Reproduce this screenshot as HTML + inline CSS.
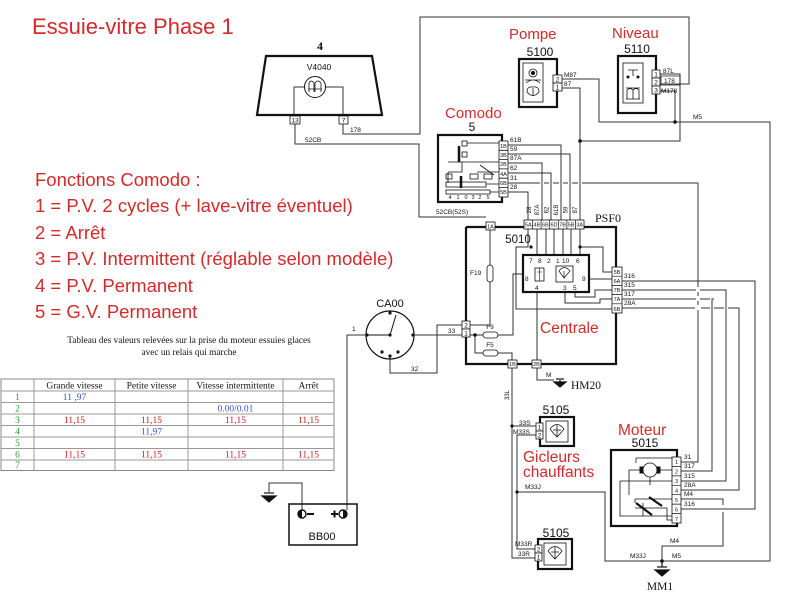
<!DOCTYPE html>
<html><head><meta charset="utf-8">
<style>
html,body{margin:0;padding:0;background:#fff;}
svg{display:block;}
.s{font-family:"Liberation Sans",sans-serif;}
.r{font-family:"Liberation Serif",serif;}
</style></head>
<body>
<svg width="800" height="600" viewBox="0 0 800 600" xmlns="http://www.w3.org/2000/svg">
<rect width="800" height="600" fill="#fff"/>

<!-- Title & red texts -->
<g class="s" fill="#d42a2a">
<text x="32" y="34" font-size="22">Essuie-vitre Phase 1</text>
<text x="35" y="186" font-size="18.5">Fonctions Comodo :</text>
<text x="35" y="212" font-size="18.5">1 = P.V. 2 cycles (+ lave-vitre éventuel)</text>
<text x="35" y="239" font-size="18.5">2 = Arrêt</text>
<text x="35" y="265" font-size="18.5">3 = P.V. Intermittent (réglable selon modèle)</text>
<text x="35" y="292" font-size="18.5">4 = P.V. Permanent</text>
<text x="35" y="318" font-size="18.5">5 = G.V. Permanent</text>
<text x="509" y="39" font-size="15">Pompe</text>
<text x="612" y="38" font-size="15">Niveau</text>
<text x="445" y="118" font-size="15">Comodo</text>
<text x="540" y="333" font-size="15.5">Centrale</text>
<text x="523" y="462" font-size="15.5">Gicleurs</text>
<text x="523" y="477" font-size="15.5">chauffants</text>
<text x="618" y="435" font-size="15.5">Moteur</text>
</g>

<!-- caption -->
<g class="r" font-size="9.3" fill="#111" text-anchor="middle">
<text x="189" y="343">Tableau des valeurs  relevées sur la prise du moteur essuies glaces</text>
<text x="189" y="355">avec un relais qui marche</text>
</g>

<!-- table -->
<g stroke="#999" stroke-width="1" fill="none">
<rect x="1" y="379" width="333" height="91.5" stroke="#888"/>
<line x1="1" y1="391" x2="334" y2="391"/>
<line x1="1" y1="402.5" x2="334" y2="402.5"/>
<line x1="1" y1="414" x2="334" y2="414"/>
<line x1="1" y1="425.5" x2="334" y2="425.5"/>
<line x1="1" y1="437" x2="334" y2="437"/>
<line x1="1" y1="448.5" x2="334" y2="448.5"/>
<line x1="1" y1="460" x2="334" y2="460"/>
<line x1="34" y1="379" x2="34" y2="470.5"/>
<line x1="115" y1="379" x2="115" y2="470.5"/>
<line x1="188" y1="379" x2="188" y2="470.5"/>
<line x1="283" y1="379" x2="283" y2="470.5"/>
</g>
<g class="r" font-size="9.5" text-anchor="middle">
<g fill="#111">
<text x="74.5" y="388.5">Grande vitesse</text>
<text x="151.5" y="388.5">Petite vitesse</text>
<text x="235.5" y="388.5">Vitesse intermittente</text>
<text x="308.5" y="388.5">Arrêt</text>
</g>
<g fill="#22aa22">
<text x="17.5" y="400">1</text><text x="17.5" y="411.5">2</text><text x="17.5" y="423">3</text>
<text x="17.5" y="434.5">4</text><text x="17.5" y="446">5</text><text x="17.5" y="457.5">6</text>
<text x="17.5" y="468">7</text>
</g>
<g fill="#3355cc">
<text x="74.5" y="400">11 ,97</text>
<text x="235.5" y="411.5">0.00/0.01</text>
<text x="151.5" y="434.5">11,97</text>
</g>
<g fill="#cc1a1a">
<text x="74.5" y="423">11,15</text><text x="151.5" y="423">11,15</text><text x="235.5" y="423">11,15</text><text x="308.5" y="423">11,15</text>
<text x="74.5" y="457.5">11,15</text><text x="151.5" y="457.5">11,15</text><text x="235.5" y="457.5">11,15</text><text x="308.5" y="457.5">11,15</text>
</g>
</g>

<!-- ============ WIRES ============ -->
<g stroke="#333" stroke-width="1" fill="none">
<!-- 178 -->
<path d="M343,124 V134 H420 V17 H689 V84 H660"/>
<!-- 52CB -->
<path d="M295,124 V144 H419 V217 H486"/>
<!-- Pompe -->
<path d="M562,79 H599 V122 H675"/>
<path d="M562,88 H580 V220"/>
<!-- Niveau -->
<path d="M660,74 H680 V141 H580"/>
<path d="M660,91 H675 V122"/>
<!-- M5 -->
<path d="M675,122 H770 V561 H662"/>
<!-- Comodo wires -->
<path d="M508,145 H561 V220"/>
<path d="M508,154 H570 V220"/>
<path d="M508,163 H542 V220"/>
<path d="M508,173 H551 V220"/>
<path d="M508,192 H528 V220"/>
<path d="M508,183 H540 M544,183 H549 M553,183 H559 M563,183 H568 M572,183 H578 M582,183 H698 V287 M698,292 V296 M698,301 V305 M698,310 V462 H681"/>
<!-- PSF0 right wires -->
<path d="M622,281 H755 V509 H681"/>
<path d="M622,290 H696 M700,290 H726 V481 H681"/>
<path d="M622,299 H696 M700,299 H710 M714,299 H712 V471 H681"/>
<path d="M622,308 H695 M701,308 H710 M714,308 H724 M728,308 H739 V490 H681"/>
<!-- M4 -->
<path d="M681,499 H723 V505 M723,512 V546 H662 V561"/>
<!-- M33J -->
<path d="M517,492 H605 V561 H662"/>
<!-- 33L / Gicleurs -->
<path d="M512,368 V558 H535"/>
<path d="M512,426 H537"/>
<path d="M537,435 H517 V549 H535"/>
<!-- CA00 wires -->
<path d="M366,335 H347 V510"/>
<path d="M414,335 H462"/>
<path d="M390,357 V373 H437 V325 H462"/>
<!-- battery ground -->
<path d="M302,510 V483 H269 V492"/>
<!-- PSF0 internals -->
<path d="M490,230 V265 M490,282 V325 H470"/>
<path d="M470,335 H483 M475,335 V353 H483"/>
<path d="M498,335 H513 V274 H523"/>
<path d="M498,353 H512 V360"/>
<path d="M528,229 V247 H516 V309 H612"/>
<path d="M537,229 V255 M546,229 V255 M554,229 V255 M563,229 V255 M571,229 V255 M580,229 V255"/>
<path d="M580,247 H603 V272 H612"/>
<path d="M589,279 H612"/>
<path d="M575,292 V297 H595 V290 H612"/>
<path d="M565,292 V303 H600 V299 H612"/>
<path d="M537,292 V360 M537,368 V380 H554"/>
<!-- V4040 internal -->
<path d="M304,87 H294 V116 M325,87 H343 V116"/>
</g>

<!-- dots -->
<g fill="#111">
<circle cx="580" cy="141" r="1.8"/><circle cx="675" cy="122" r="1.8"/>
<circle cx="475" cy="335" r="1.8"/><circle cx="580" cy="247" r="1.6"/><circle cx="531" cy="247" r="1.6"/>
<circle cx="512" cy="426" r="1.6"/><circle cx="517" cy="492" r="1.6"/><circle cx="662" cy="561" r="1.8"/>
</g>

<!-- ============ COMPONENTS ============ -->
<g stroke="#111" fill="none">
<!-- V4040 -->
<polygon points="266,56 372,56 382,115 257,115" stroke-width="2.2"/>
<circle cx="315" cy="87" r="10.5" stroke-width="1"/>
<path d="M309,92 V83 Q311,79 314,83 V92 M315,92 V83 Q318,79 321,83 V92 M308,89 H322" stroke-width="0.8"/>
<rect x="290" y="116" width="10" height="8" fill="#fff" stroke-width="0.8"/>
<rect x="339" y="116" width="9" height="8" fill="#fff" stroke-width="0.8"/>

<!-- Pompe -->
<rect x="519" y="59" width="38" height="48" stroke-width="2.2"/>
<rect x="523" y="63" width="20" height="39" stroke-width="0.8"/>
<circle cx="533" cy="73" r="4" stroke-width="0.8"/><circle cx="533" cy="73" r="1.6" fill="#111"/>
<path d="M525,80 H541 M526,83 Q533,77 540,83 M527,92 Q527,86 533,87 Q539,86 539,92 Q533,99 527,92 M533,88 V96" stroke-width="0.8"/>
<rect x="553" y="75" width="9" height="8" fill="#fff" stroke-width="0.8"/>
<rect x="553" y="83" width="9" height="8" fill="#fff" stroke-width="0.8"/>

<!-- Niveau -->
<rect x="618" y="56" width="38" height="57" stroke-width="2.2"/>
<rect x="623" y="63" width="20" height="40" stroke-width="0.8"/>
<path d="M628,70 H638 M633,70 V76 M626,88 H640 M627,99 V90 Q630,87 633,90 V99 M633,90 Q636,87 639,90 V99 M626,99 H640" stroke-width="0.8"/>
<circle cx="628" cy="77" r="1" fill="#111"/><circle cx="638" cy="77" r="1" fill="#111"/>
<rect x="652" y="70" width="8" height="8" fill="#fff" stroke-width="0.8"/>
<rect x="652" y="78" width="8" height="8" fill="#fff" stroke-width="0.8"/>
<rect x="652" y="86" width="8" height="8" fill="#fff" stroke-width="0.8"/>
<rect x="661" y="76" width="19" height="9" stroke-width="0.7"/>

<!-- Comodo -->
<rect x="438" y="135" width="64" height="67" stroke-width="2.2"/>
<g stroke-width="0.8">
<rect x="462" y="141" width="5" height="5"/><rect x="462" y="152" width="5" height="5"/>
<path d="M467,143 H499 M448,162 H499 M477,172 H499 M448,172 V183 M448,172 H462 V162"/>
<path d="M480,165 L494,175"/>
<rect x="446" y="174" width="6" height="5"/><rect x="470" y="174" width="8" height="5"/><rect x="484" y="174" width="8" height="5"/>
<rect x="446" y="182" width="40" height="5"/><rect x="446" y="190" width="44" height="4"/>
<path d="M490,192 H499 M486,184 H499"/>
</g>
<path d="M459,146 V162 M461,176 V188" stroke-width="2.5"/>
<rect x="499" y="141" width="9" height="56" fill="#fff" stroke-width="0.8"/>
<path d="M499,150.3 H508 M499,159.6 H508 M499,168.9 H508 M499,178.2 H508 M499,187.5 H508" stroke-width="0.8"/>

<!-- PSF0 -->
<path d="M466,227 H486 M495,227 H524 M584,227 H616 V364 H541 M532,364 H517 M508,364 H466 V227" stroke-width="2.2"/>
<rect x="486" y="222" width="9" height="8" fill="#fff" stroke-width="0.8"/>
<rect x="524" y="220" width="60" height="9" fill="#fff" stroke-width="0.8"/>
<path d="M532.6,220 V229 M541.1,220 V229 M549.7,220 V229 M558.3,220 V229 M566.9,220 V229 M575.4,220 V229" stroke-width="0.7"/>
<rect x="487" y="265" width="6" height="17" rx="3" fill="#fff" stroke-width="0.8"/>
<rect x="483" y="332" width="15" height="6" rx="3" fill="#fff" stroke-width="0.8"/>
<rect x="483" y="350" width="15" height="6" rx="3" fill="#fff" stroke-width="0.8"/>
<rect x="462" y="321" width="8" height="8" fill="#fff" stroke-width="0.8"/>
<rect x="462" y="329" width="8" height="8" fill="#fff" stroke-width="0.8"/>
<rect x="508" y="360" width="9" height="8" fill="#fff" stroke-width="0.8"/>
<rect x="532" y="360" width="9" height="8" fill="#fff" stroke-width="0.8"/>
<rect x="612" y="267" width="10" height="46" fill="#fff" stroke-width="0.8"/>
<path d="M612,276.2 H622 M612,285.4 H622 M612,294.6 H622 M612,303.8 H622" stroke-width="0.7"/>
<!-- 5010 -->
<rect x="523" y="255" width="66" height="37" fill="#fff" stroke-width="2.2"/>
<rect x="535" y="268" width="9" height="13" stroke-width="0.8"/>
<path d="M539.5,268 V281 M537,272 H542" stroke-width="0.6"/>
<rect x="556" y="266" width="17" height="16" stroke-width="0.8"/>
<path d="M559,271 Q564,264 570,271 L564,278 Z M564,271 V278" stroke-width="0.7"/>

<!-- Gicleurs 5105 upper -->
<rect x="540" y="417" width="34" height="29" stroke-width="2.2"/>
<rect x="546" y="421" width="22" height="21" stroke-width="0.8"/>
<path d="M550,429 Q557,420 564,429 Q560,434 557,437 Q554,434 550,429 M557,425 V437 M553,430 H561" stroke-width="0.8"/>
<rect x="536" y="423" width="7" height="8" fill="#fff" stroke-width="0.8"/>
<rect x="536" y="431" width="7" height="8" fill="#fff" stroke-width="0.8"/>
<!-- lower 5105 -->
<rect x="538" y="539" width="34" height="30" stroke-width="2.2"/>
<rect x="544" y="543" width="22" height="22" stroke-width="0.8"/>
<path d="M548,551 Q555,542 562,551 Q558,556 555,559 Q552,556 548,551 M555,547 V559 M551,552 H559" stroke-width="0.8"/>
<rect x="535" y="545" width="7" height="8" fill="#fff" stroke-width="0.8"/>
<rect x="535" y="553" width="7" height="8" fill="#fff" stroke-width="0.8"/>

<!-- Moteur -->
<rect x="611" y="450" width="66" height="76" stroke-width="2.2"/>
<g stroke-width="0.8">
<circle cx="650" cy="470" r="7"/>
<path d="M636,458 H672 M636,458 V463 M643,470 H629 V495 M657,470 H672 M650,477 V485 M620,481 H672 M620,481 V516 H672 M635,499 H672 M635,499 V503 M635,508 H667 V520 H672 M643,503 V516"/>
<path d="M636,503 L652,515 M649,497 L662,506" stroke-width="2.2"/>
</g>
<rect x="640" y="467" width="3" height="6" fill="#111"/><rect x="657" y="467" width="3" height="6" fill="#111"/>
<rect x="672" y="457" width="9" height="66" fill="#fff" stroke-width="0.8"/>
<path d="M672,466.4 H681 M672,475.9 H681 M672,485.3 H681 M672,494.7 H681 M672,504.1 H681 M672,513.6 H681" stroke-width="0.7"/>

<!-- CA00 -->
<circle cx="390" cy="335" r="24" stroke-width="1.2"/>
<path d="M367,335 H390 L396,315" stroke-width="1"/>
<!-- BB00 -->
<rect x="289" y="504" width="68" height="41" stroke-width="1.5"/>
<circle cx="302" cy="514" r="4" stroke-width="1.4"/>
<circle cx="343" cy="514" r="4" stroke-width="1.4"/>
<path d="M307,514 H314 M331,514 H338 M334.5,510.5 V517.5" stroke-width="2"/>
</g>
<g fill="#111">
<circle cx="390" cy="335" r="1.6"/><circle cx="367" cy="335" r="1.6"/><circle cx="390" cy="313" r="1.6"/>
<circle cx="413" cy="335" r="1.6"/><circle cx="382" cy="352" r="1.6"/><circle cx="390" cy="356" r="1.6"/><circle cx="398" cy="352" r="1.6"/>
<path d="M302,510 A4,4 0 0 0 302,518 Z"/><path d="M343,510 A4,4 0 0 1 343,518 Z"/>
</g>

<!-- grounds -->
<g stroke="#111" stroke-width="1.2" fill="#111">
<path d="M262,496 H276 L269,502 Z"/><path d="M264,493 H274" fill="none"/>
<path d="M554,382 H566 L560,387 Z"/><path d="M556,379 H564" fill="none"/><path d="M560,380 V382" fill="none"/>
<path d="M655,570 H669 L662,576 Z"/><path d="M657,567 H667" fill="none"/><path d="M662,561 V567" fill="none"/>
</g>

<!-- ============ LABELS ============ -->
<g class="s" fill="#111">
<text x="320" y="50" class="r" font-size="12" font-weight="bold" text-anchor="middle">4</text>
<text x="319" y="70" font-size="8.5" text-anchor="middle">V4040</text>
<text x="472" y="131" font-size="12" text-anchor="middle">5</text>
<text x="540" y="56" font-size="12" text-anchor="middle">5100</text>
<text x="637" y="53" font-size="12" text-anchor="middle">5110</text>
<text x="518" y="243" font-size="11.5" text-anchor="middle">5010</text>
<text x="608" y="222" class="r" font-size="12" text-anchor="middle">PSF0</text>
<text x="586" y="389" class="r" font-size="11.5" text-anchor="middle">HM20</text>
<text x="556" y="414" font-size="12" text-anchor="middle">5105</text>
<text x="556" y="537" font-size="12" text-anchor="middle">5105</text>
<text x="645" y="447" font-size="12" text-anchor="middle">5015</text>
<text x="660" y="590" class="r" font-size="11.5" text-anchor="middle">MM1</text>
<text x="390" y="307" font-size="11" text-anchor="middle">CA00</text>
<text x="322" y="540" font-size="11" text-anchor="middle">BB00</text>

<g font-size="6.5">
<text x="295" y="122.5" text-anchor="middle">13</text>
<text x="343.5" y="122.5" text-anchor="middle">7</text>
<text x="350" y="132">178</text>
<text x="305" y="142">52CB</text>
<text x="557.5" y="81.5" text-anchor="middle">2</text>
<text x="557.5" y="89.5" text-anchor="middle">1</text>
<text x="564" y="77">M87</text>
<text x="564" y="86">87</text>
<text x="656" y="76.5" text-anchor="middle">1</text>
<text x="656" y="84.5" text-anchor="middle">2</text>
<text x="656" y="92.5" text-anchor="middle">3</text>
<text x="663" y="73">87L</text>
<text x="664" y="83">178</text>
<text x="661" y="93">M178</text>
<text x="693" y="119">M5</text>
<text x="510" y="142">61B</text>
<text x="510" y="151">59</text>
<text x="510" y="160">87A</text>
<text x="510" y="170">62</text>
<text x="510" y="180">31</text>
<text x="510" y="189">28</text>
<text x="436" y="214">52CB(52S)</text>
<text x="470" y="275">F19</text>
<text x="490" y="329" text-anchor="middle">F9</text>
<text x="490" y="347" text-anchor="middle">F5</text>
<text x="448" y="333">33</text>
<text x="352" y="331">1</text>
<text x="411" y="371">32</text>
<text x="466" y="327.5" text-anchor="middle">2</text>
<text x="466" y="335.5" text-anchor="middle">1</text>
<text x="624" y="278">316</text>
<text x="624" y="287">315</text>
<text x="624" y="296">317</text>
<text x="624" y="305">28A</text>
<text x="684" y="459">31</text>
<text x="684" y="468">317</text>
<text x="684" y="478">315</text>
<text x="684" y="487">28A</text>
<text x="684" y="496">M4</text>
<text x="684" y="506">316</text>
<text x="519" y="425">33S</text>
<text x="513" y="434">M33S</text>
<text x="515" y="546">M33R</text>
<text x="518" y="556">33R</text>
<text x="525" y="489">M33J</text>
<text x="670" y="543">M4</text>
<text x="630" y="558">M33J</text>
<text x="672" y="558">M5</text>
<text x="546" y="377">M</text>
<text x="539.5" y="429.5" text-anchor="middle">1</text>
<text x="539.5" y="437.5" text-anchor="middle">2</text>
<text x="538.5" y="551.5" text-anchor="middle">2</text>
<text x="538.5" y="559.5" text-anchor="middle">1</text>
</g>
<g font-size="5.5" text-anchor="middle">
<text x="503.5" y="148">1B</text><text x="503.5" y="157">3B</text><text x="503.5" y="166">2B</text>
<text x="503.5" y="176">4A</text><text x="503.5" y="185">6B</text><text x="503.5" y="194">5B</text>
<text x="490.5" y="228.5">1A</text>
<text x="528.3" y="226.5">5A</text><text x="536.8" y="226.5">4B</text><text x="545.4" y="226.5">6B</text>
<text x="554" y="226.5">6D</text><text x="562.6" y="226.5">7B</text><text x="571.1" y="226.5">5B</text><text x="579.7" y="226.5">3A</text>
<text x="617" y="274">5B</text><text x="617" y="283">6A</text><text x="617" y="292">7B</text>
<text x="617" y="301">7A</text><text x="617" y="311">6B</text>
<text x="512.5" y="366">1B</text><text x="536.5" y="366">2B</text>
<text x="676.5" y="464">1</text><text x="676.5" y="473.5">2</text><text x="676.5" y="483">3</text>
<text x="676.5" y="492.5">4</text><text x="676.5" y="502">5</text><text x="676.5" y="511.5">6</text><text x="676.5" y="521">7</text>
<text x="450" y="199">4</text><text x="458" y="199">1</text><text x="466" y="199">0</text><text x="473" y="199">3</text><text x="480" y="199">2</text><text x="488" y="199">5</text>
</g>
<g font-size="6.5">
<text x="529" y="263">7</text><text x="538" y="263">8</text><text x="547" y="263">2</text>
<text x="556" y="263">1</text><text x="562" y="263">10</text><text x="576" y="263">6</text>
<text x="525" y="281">8</text><text x="582" y="281">9</text>
<text x="535" y="290">4</text><text x="563" y="290">3</text><text x="573" y="290">5</text>
</g>
<g font-size="6" text-anchor="middle">
<text transform="translate(531,210) rotate(-90)">28</text>
<text transform="translate(539,210) rotate(-90)">87A</text>
<text transform="translate(548.5,210) rotate(-90)">62</text>
<text transform="translate(558,210) rotate(-90)">61B</text>
<text transform="translate(567.5,210) rotate(-90)">59</text>
<text transform="translate(577,210) rotate(-90)">87</text>
<text transform="translate(509,395) rotate(-90)">33L</text>
</g>
</g>
</svg>
</body></html>
